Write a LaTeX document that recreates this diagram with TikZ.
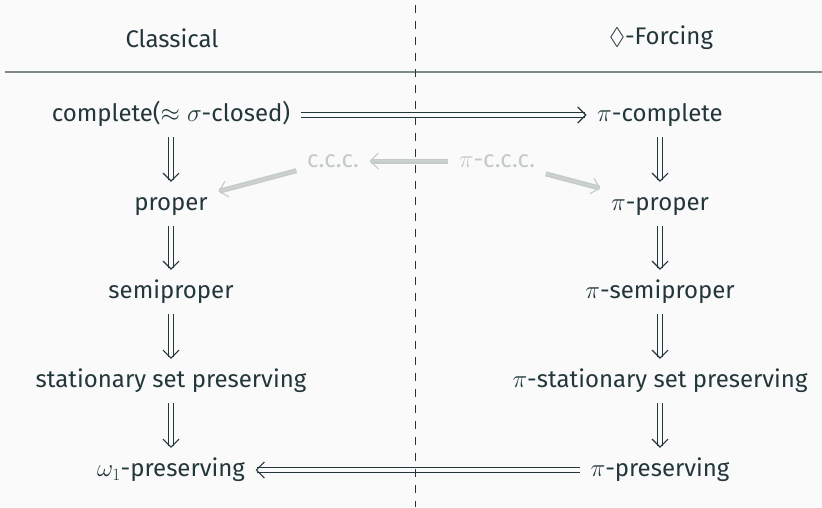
\documentclass[tikz,border=0pt]{standalone}
\usepackage{amssymb}
\usepackage[no-math]{fontspec}
\setmainfont{Fira Sans}
\usetikzlibrary{arrows.meta}
\definecolor{ink}{HTML}{23373B}
\definecolor{bg}{HTML}{FAFAFA}
\definecolor{faint}{HTML}{C4C9CA}
\definecolor{faintcore}{HTML}{CCD0D1}
\definecolor{rulegray}{HTML}{7F8A8B}
\begin{document}
\begin{tikzpicture}[x=1pt,y=-1pt,
  every node/.style={font=\fontsize{24}{29}\selectfont, text=ink},
  lbl/.style={inner xsep=10.5pt, inner ysep=10.5pt, text height=18pt, text depth=5pt},
  head/.style={inner sep=0pt},
  dim/.style={lbl, text=faint},
  imp/.style={draw=ink, line width=1.1pt, double=bg, double distance=4pt,
    -{Straight Barb[length=8pt, width=16pt, line width=1.1pt]}},
  gimp/.style={draw=faint, line width=1.2pt, double=faintcore, double distance=2.6pt,
    -{Straight Barb[length=8pt, width=16pt, line width=1.1pt]}},
]
% canvas
\fill[bg] (0,0) rectangle (822,507);
\useasboundingbox (0,0) rectangle (822,507);

% column headings and separators
\node[head] (hc) at (172,38) {Classical};
\node[head] (hf) at (661,38) {$\Diamond$-Forcing};
\coordinate (hl) at (5,72);
\coordinate (hr) at (822,72);
\draw[rulegray, line width=2pt] (hl) -- (hr);

% classical column
\node[lbl] (cpl)  at (171,115) {complete($\approx\sigma$-closed)};
\node[lbl] (prp)  at (171,204) {proper};
\node[lbl] (sprp) at (171,292) {semiproper};
\node[lbl] (stat) at (171,381) {stationary set preserving};
\node[lbl] (opr)  at (171,470) {$\omega_1$-preserving};

% diamond-forcing column
\node[lbl] (pcpl)  at (660,115) {$\pi$-complete};
\node[lbl] (pprp)  at (660,204) {$\pi$-proper};
\node[lbl] (psprp) at (660,292) {$\pi$-semiproper};
\node[lbl] (pstat) at (660,381) {$\pi$-stationary set preserving};
\node[lbl] (ppr)   at (660,470) {$\pi$-preserving};

% chain conditions
\node[dim] (ccc)  at (333,161) {c.c.c.};
\node[dim] (pccc) at (497,161) {$\pi$-c.c.c.};

% implications
\draw[imp] (cpl) -- (prp);
\draw[imp] (prp) -- (sprp);
\draw[imp] (sprp) -- (stat);
\draw[imp] (stat) -- (opr);
\draw[imp] (pcpl) -- (pprp);
\draw[imp] (pprp) -- (psprp);
\draw[imp] (psprp) -- (pstat);
\draw[imp] (pstat) -- (ppr);
\draw[imp] (cpl) -- (pcpl);
\draw[imp] (ppr) -- (opr);

\draw[gimp] (pccc) -- (ccc);
\draw[gimp] (ccc) -- (prp);
\draw[gimp] (pccc) -- (pprp);

% dividing line
\coordinate (dtop) at (415.5,0);
\coordinate (dbot) at (415.5,507);
\draw[ink, line width=1pt, dash pattern=on 7.5pt off 8.5pt, dash phase=11pt] (dtop) -- (dbot);
\end{tikzpicture}
\end{document}
